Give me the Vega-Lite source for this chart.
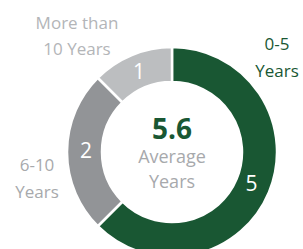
{
  "$schema": "https://vega.github.io/schema/vega-lite/v6.json",
  "width": 210,
  "height": 210,
  "autosize": "none",
  "padding": {"left": 67, "top": 47, "right": 26, "bottom": 0},
  "background": "white",
  "config": {"view": {"stroke": null}},
  "data": {
    "values": [
      {"group": "0-5 Years", "label": "0-5\nYears", "count": 5, "order": 1},
      {"group": "6-10 Years", "label": "6-10\nYears", "count": 2, "order": 2},
      {"group": "More than 10 Years", "label": "More than\n10 Years", "count": 1, "order": 3}
    ]
  },
  "encoding": {
    "theta": {"field": "count", "type": "quantitative", "stack": true},
    "order": {"field": "order", "type": "quantitative"}
  },
  "layer": [
    {
      "mark": {"type": "arc", "innerRadius": 70, "outerRadius": 105, "stroke": "white", "strokeWidth": 2.5},
      "encoding": {
        "color": {
          "field": "group",
          "type": "nominal",
          "scale": {"domain": ["0-5 Years", "6-10 Years", "More than 10 Years"], "range": ["#195733", "#929497", "#bcbec0"]},
          "legend": null
        }
      }
    },
    {
      "mark": {"type": "text", "radius": 86, "font": "Open Sans", "fontSize": 21, "color": "white", "baseline": "middle", "align": "center"},
      "encoding": {"text": {"field": "count", "type": "quantitative"}}
    },
    {
      "transform": [{"filter": "datum.order == 1"}],
      "mark": {"type": "text", "font": "Open Sans", "fontSize": 17, "color": "#195733", "lineBreak": "\n", "lineHeight": 27, "baseline": "middle", "align": "center", "dx": 105, "dy": -107},
      "encoding": {"text": {"field": "label"}, "theta": null, "order": null}
    },
    {
      "transform": [{"filter": "datum.order == 2"}],
      "mark": {"type": "text", "font": "Open Sans", "fontSize": 17, "color": "#a7a9ac", "lineBreak": "\n", "lineHeight": 27, "baseline": "middle", "align": "center", "dx": -135, "dy": 14},
      "encoding": {"text": {"field": "label"}, "theta": null, "order": null}
    },
    {
      "transform": [{"filter": "datum.order == 3"}],
      "mark": {"type": "text", "font": "Open Sans", "fontSize": 17, "color": "#b3b5b8", "lineBreak": "\n", "lineHeight": 26, "baseline": "middle", "align": "center", "dx": -95, "dy": -128},
      "encoding": {"text": {"field": "label"}, "theta": null, "order": null}
    },
    {
      "data": {"values": [{"avg": "5.6", "sub": "Average\nYears"}]},
      "layer": [
        {
          "mark": {"type": "text", "font": "Open Sans", "fontSize": 28, "fontWeight": "bold", "color": "#195733", "baseline": "middle", "align": "center", "dy": -21},
          "encoding": {"text": {"field": "avg"}, "theta": null, "order": null}
        },
        {
          "mark": {"type": "text", "font": "Open Sans", "fontSize": 18, "color": "#a7a9ac", "lineBreak": "\n", "lineHeight": 25, "baseline": "middle", "align": "center", "dy": 6},
          "encoding": {"text": {"field": "sub"}, "theta": null, "order": null}
        }
      ]
    }
  ]
}
